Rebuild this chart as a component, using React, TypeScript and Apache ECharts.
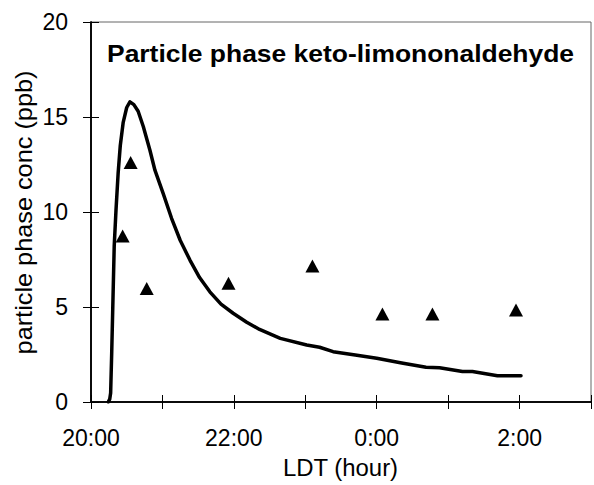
import React, { useEffect, useRef } from "react";
import * as echarts from "echarts";

// Model curve: hour of day (values past 24 are after midnight), concentration in ppb
const modelHours = [
  20.242, 20.262, 20.275, 20.29, 20.305, 20.325, 20.35, 20.38, 20.41, 20.45, 20.5, 20.545, 20.6, 20.66,
  20.732, 20.825, 20.895, 21.01, 21.128, 21.25, 21.385, 21.52, 21.664, 21.82, 21.99, 22.18, 22.36, 22.65,
  23.02, 23.2, 23.39, 23.7, 24.0, 24.35, 24.69, 24.88, 25.2, 25.34, 25.69, 26.02,
];
const modelConc = [
  0, 0.15, 0.47, 2.6, 5.0, 8.2, 10.1, 12.05, 13.5, 14.7, 15.5, 15.8, 15.65, 15.3,
  14.5, 13.25, 12.2, 10.98, 9.67, 8.5, 7.47, 6.55, 5.8, 5.15, 4.67, 4.2, 3.82, 3.35,
  3.0, 2.88, 2.65, 2.47, 2.3, 2.05, 1.83, 1.8, 1.6, 1.6, 1.38, 1.38,
];

// Measured points
const obsHours = [20.443, 20.555, 20.78, 21.925, 23.1, 24.08, 24.78, 25.95];
const obsConc = [8.74, 12.6, 5.98, 6.25, 7.16, 4.63, 4.63, 4.84];

// Axis ticks
const xTickLabels = ["20:00", "", "22:00", "", "0:00", "", "2:00", ""];
const yTickLabels = ["0", "5", "10", "15", "20"];

const titleText = "Particle phase keto-limononaldehyde";
const xName = "LDT (hour)";
const yName = "particle phase conc (ppb)";

const FONT = '"Liberation Sans", Arial, sans-serif';

export default function App() {
  const ref = useRef<HTMLDivElement>(null);
  useEffect(() => {
    if (!ref.current) return;
    const chart = echarts.init(ref.current, undefined, { renderer: "svg" });
    const xMin = 20;
    const xMax = 27;
    const xFmt = (v: number) => xTickLabels[Math.round(v - xMin)] ?? "";
    const yFmt = (v: number) => yTickLabels[Math.round(v / 5)] ?? "";
    const labelStyle = { color: "#000", fontFamily: FONT, fontSize: 23 };
    const baseX = {
      type: "value",
      min: xMin,
      max: xMax,
      interval: 1,
      position: "bottom",
      splitLine: { show: false },
      axisLine: { show: true, lineStyle: { color: "#000", width: 1.5 } },
    };
    const baseY = {
      type: "value",
      min: 0,
      max: 20,
      interval: 5,
      position: "left",
      splitLine: { show: false },
      axisLine: { show: true, lineStyle: { color: "#000", width: 1.5 } },
    };
    chart.setOption({
      animation: false,
      backgroundColor: "#fff",
      grid: {
        left: 91,
        right: 2,
        top: 22,
        bottom: 83,
        show: true,
        borderColor: "#666",
        borderWidth: 1,
      },
      xAxis: [
        {
          ...baseX,
          axisTick: { show: true, inside: false, length: 7, lineStyle: { color: "#000", width: 1 } },
          axisLabel: { ...labelStyle, margin: 24, formatter: xFmt, showMaxLabel: true },
        },
        {
          ...baseX,
          axisTick: { show: true, inside: true, length: 7, lineStyle: { color: "#000", width: 1 } },
          axisLabel: { show: false },
        },
      ],
      yAxis: [
        {
          ...baseY,
          axisTick: { show: true, inside: false, length: 8, lineStyle: { color: "#000", width: 1 } },
          axisLabel: { ...labelStyle, margin: 23, formatter: yFmt },
        },
        {
          ...baseY,
          axisTick: { show: true, inside: true, length: 8, lineStyle: { color: "#000", width: 1 } },
          axisLabel: { show: false },
        },
      ],
      series: [
        {
          type: "line",
          name: "model",
          data: modelHours.map((h, i) => [h, modelConc[i]]),
          showSymbol: false,
          symbol: "none",
          smooth: false,
          lineStyle: { color: "#000", width: 3.5, join: "round", cap: "round" },
          z: 3,
        },
        {
          type: "scatter",
          name: "measured",
          data: obsHours.map((h, i) => [h, obsConc[i]]),
          symbol: "triangle",
          symbolSize: [14, 13],
          itemStyle: { color: "#000", opacity: 1 },
          z: 4,
        },
      ],
      graphic: [
        {
          type: "text",
          x: 107,
          y: 54,
          scaleX: 1.15,
          style: {
            text: titleText,
            font: `bold 23px ${FONT}`,
            fill: "#000",
            align: "left",
            verticalAlign: "middle",
          },
        },
        {
          type: "text",
          x: 340.5,
          y: 468,
          scaleX: 1.04,
          style: {
            text: xName,
            font: `23px ${FONT}`,
            fill: "#000",
            align: "center",
            verticalAlign: "middle",
          },
        },
        {
          type: "text",
          x: 24,
          y: 212.5,
          rotation: Math.PI / 2,
          scaleX: 1.1,
          style: {
            text: yName,
            font: `23px ${FONT}`,
            fill: "#000",
            align: "center",
            verticalAlign: "middle",
          },
        },
      ],
    });
    return () => chart.dispose();
  }, []);
  return <div ref={ref} style={{ width: 594, height: 485, position: "absolute", left: 0, top: 0 }} />;
}
